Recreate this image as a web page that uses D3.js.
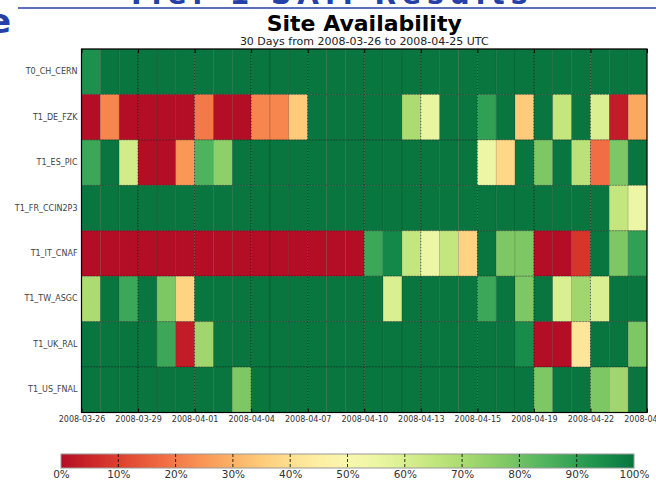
<!DOCTYPE html>
<html>
<head>
<meta charset="utf-8">
<script src="https://cdn.jsdelivr.net/npm/d3@7"></script>
<style>
  html, body { margin: 0; padding: 0; background: #fff; }
  svg { display: block; font-family: "DejaVu Sans", sans-serif; }
</style>
</head>
<body>
<svg id="chart" width="656" height="481"></svg>
<script>
// Sites (rows, top to bottom)
const sites = ["T0_CH_CERN", "T1_DE_FZK", "T1_ES_PIC", "T1_FR_CCIN2P3",
               "T1_IT_CNAF", "T1_TW_ASGC", "T1_UK_RAL", "T1_US_FNAL"];

// Daily availability in percent, 30 days starting 2008-03-26
const cern   = [94,100,100,100,100,100,100,100,100,100,100,100,100,100,100,100,100,100,100,100,100,100,100,100,100,100,100,100,100,100];
const fzk    = [0,22,0,0,0,0,20,0,0,22,22,35,100,100,100,100,100,70,56,100,100,90,100,35,100,65,100,60,3,28];
const pic    = [88,100,62,0,0,25,85,75,100,100,100,100,100,100,100,100,100,100,100,100,100,55,38,100,78,100,67,18,78,100];
const ccin2p3= [100,100,100,100,100,100,100,100,100,100,100,100,100,100,100,100,100,100,100,100,100,100,100,100,100,100,100,100,65,55];
const cnaf   = [0,0,0,0,0,0,0,0,0,0,0,0,0,0,0,88,96,65,55,65,37,100,78,78,0,0,8,100,78,90];
const asgc   = [70,100,88,100,78,37,100,100,100,100,100,100,100,100,100,100,60,100,100,100,100,88,100,78,100,60,72,60,100,100];
const ral    = [100,100,100,100,88,3,72,100,100,100,100,100,100,100,100,100,100,100,100,100,100,100,100,95,0,0,42,100,100,78];
const fnal   = [100,100,100,100,100,100,100,100,78,100,100,100,100,100,100,100,100,100,100,100,100,100,100,100,78,100,100,78,72,100];
const seriesValues = [cern, fzk, pic, ccin2p3, cnaf, asgc, ral, fnal];

// Date tick labels, one every three days
const tickDays   = [0, 3, 6, 9, 12, 15, 18, 21, 24, 27, 30];
const tickLabels = ["2008-03-26","2008-03-29","2008-04-01","2008-04-04","2008-04-07",
                    "2008-04-10","2008-04-13","2008-04-15","2008-04-19","2008-04-22","2008-04-25"];

// Colour bar ticks
const barTicks = [0,10,20,30,40,50,60,70,80,90,100];

const titleText = "Site Availability";
const subtitleText = "30 Days from 2008-03-26 to 2008-04-25 UTC";

const svg = d3.select("#chart");

// Slide header behind the chart
const header = svg.append("g");
header.append("text")
  .attr("x", 330).attr("y", 4)
  .attr("text-anchor", "middle")
  .attr("font-size", 28).attr("font-weight", "bold")
  .attr("fill", "#2540a8")
  .attr("letter-spacing", 6)
  .text("Tier-1 SAM Results");
header.append("line")
  .attr("x1", 18).attr("x2", 656).attr("y1", 8).attr("y2", 8)
  .attr("stroke", "#2540a8").attr("stroke-width", 1.5);
header.append("text")
  .attr("x", -12).attr("y", 33)
  .attr("font-size", 34).attr("font-weight", "bold")
  .attr("fill", "#2540a8")
  .text("e");

const plot = { left: 81.5, right: 647, top: 49, bottom: 412.5 };
const nDays = 30;

const x = d3.scaleLinear().domain([0, nDays]).range([plot.left, plot.right]);
const y = d3.scaleBand().domain(sites).range([plot.top, plot.bottom]);
// RdYlGn map, trimmed slightly at both ends
const color = v => d3.interpolateRdYlGn(0.03 + 0.94 * v / 100);

// Title and subtitle
svg.append("text")
  .attr("x", (plot.left + plot.right) / 2).attr("y", 31)
  .attr("text-anchor", "middle")
  .attr("font-size", 22).attr("font-weight", "bold")
  .attr("fill", "#000")
  .text(titleText);
svg.append("text")
  .attr("x", (plot.left + plot.right) / 2).attr("y", 45)
  .attr("text-anchor", "middle")
  .attr("font-size", 11)
  .attr("fill", "#222")
  .text(subtitleText);

// Heatmap cells
const cells = [];
sites.forEach((s, r) => seriesValues[r].forEach((v, d) => cells.push({ site: s, day: d, value: v })));

svg.append("g").selectAll("rect")
  .data(cells)
  .join("rect")
  .attr("x", d => x(d.day))
  .attr("y", d => y(d.site))
  .attr("width", x(1) - x(0))
  .attr("height", y.bandwidth())
  .attr("fill", d => color(d.value))
  .attr("stroke", "rgba(0,0,0,0.22)")
  .attr("stroke-width", 0.6);

// Dotted grid at date ticks and row boundaries
const grid = svg.append("g")
  .attr("stroke", "#000").attr("stroke-width", 0.7)
  .attr("stroke-dasharray", "1,2").attr("opacity", 0.7);
grid.selectAll("line.v")
  .data(tickDays.slice(1, -1))
  .join("line").attr("class", "v")
  .attr("x1", d => x(d)).attr("x2", d => x(d))
  .attr("y1", plot.top).attr("y2", plot.bottom);
grid.selectAll("line.h")
  .data(sites.slice(1))
  .join("line").attr("class", "h")
  .attr("x1", plot.left).attr("x2", plot.right)
  .attr("y1", d => y(d)).attr("y2", d => y(d));

// Bottom axis with date labels, ticks pointing inwards
const xAxis = d3.axisBottom(x)
  .tickValues(tickDays)
  .tickFormat((d, i) => tickLabels[i])
  .tickSizeInner(-4).tickSizeOuter(0).tickPadding(4);
const gx = svg.append("g")
  .attr("transform", `translate(0,${plot.bottom})`)
  .call(xAxis);
gx.select(".domain").remove();
gx.selectAll("text").attr("font-size", 8).attr("fill", "#333").attr("font-family", "DejaVu Sans");
gx.selectAll("line").attr("stroke", "#000").attr("stroke-width", 1);

// Top axis: inward ticks only
const gxTop = svg.append("g")
  .attr("transform", `translate(0,${plot.top})`)
  .call(d3.axisTop(x).tickValues(tickDays).tickFormat("").tickSizeInner(-4).tickSizeOuter(0));
gxTop.select(".domain").remove();
gxTop.selectAll("line").attr("stroke", "#000").attr("stroke-width", 1);

// Site labels on the left
const yAxis = d3.axisLeft(y).tickSize(0).tickPadding(4);
const gy = svg.append("g")
  .attr("transform", `translate(${plot.left},0)`)
  .call(yAxis);
gy.select(".domain").remove();
gy.selectAll("text").attr("font-size", 8).attr("fill", "#444").attr("font-family", "DejaVu Sans");

// Plot frame
svg.append("rect")
  .attr("x", plot.left).attr("y", plot.top)
  .attr("width", plot.right - plot.left).attr("height", plot.bottom - plot.top)
  .attr("fill", "none").attr("stroke", "#000").attr("stroke-width", 1.2);

// Colour bar
const bar = { left: 61, right: 634, top: 454, bottom: 468 };
const cb = d3.scaleLinear().domain([0, 100]).range([bar.left, bar.right]);

const defs = svg.append("defs");
const grad = defs.append("linearGradient").attr("id", "rdylgn")
  .attr("x1", "0%").attr("x2", "100%").attr("y1", "0%").attr("y2", "0%");
d3.range(0, 101, 5).forEach(p => {
  grad.append("stop").attr("offset", p + "%").attr("stop-color", color(p));
});
svg.append("rect")
  .attr("x", bar.left).attr("y", bar.top)
  .attr("width", bar.right - bar.left).attr("height", bar.bottom - bar.top)
  .attr("fill", "url(#rdylgn)")
  .attr("stroke", "#999").attr("stroke-width", 1);

svg.append("g").selectAll("line")
  .data(barTicks.slice(1, -1))
  .join("line")
  .attr("x1", d => cb(d)).attr("x2", d => cb(d))
  .attr("y1", bar.top).attr("y2", bar.bottom)
  .attr("stroke", "#000").attr("stroke-width", 0.8)
  .attr("stroke-dasharray", "3,2");

const cbAxis = d3.axisBottom(cb)
  .tickValues(barTicks)
  .tickFormat(d => d + "%")
  .tickSize(0).tickPadding(3);
const gcb = svg.append("g")
  .attr("transform", `translate(0,${bar.bottom})`)
  .call(cbAxis);
gcb.select(".domain").remove();
gcb.selectAll("text").attr("font-size", 10.5).attr("fill", "#333").attr("font-family", "DejaVu Sans");
</script>
</body>
</html>
